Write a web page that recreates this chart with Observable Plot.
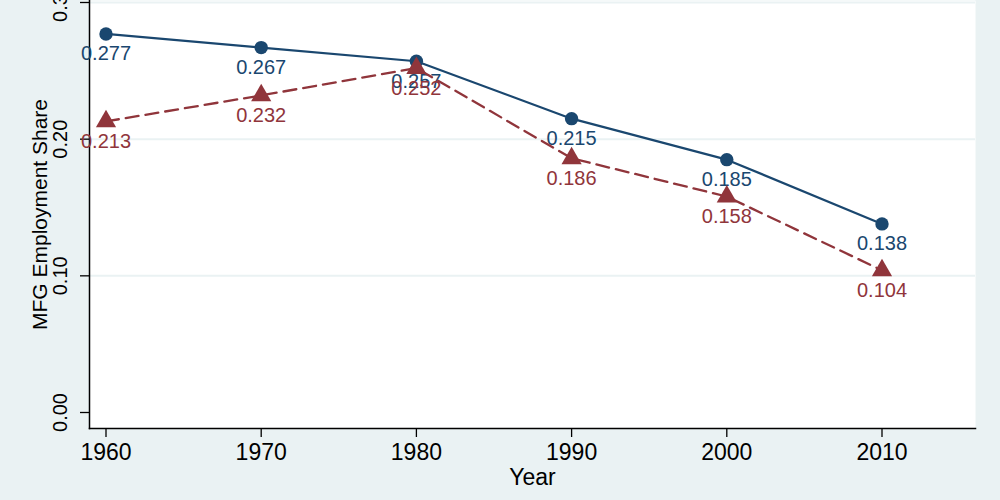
<!DOCTYPE html>
<html>
<head>
<meta charset="utf-8">
<script src="https://cdn.jsdelivr.net/npm/d3@7"></script>
<script src="https://cdn.jsdelivr.net/npm/@observablehq/plot@0.6"></script>
<style>
  html, body { margin: 0; padding: 0; background: #eaf2f3; }
  #chart { width: 1000px; height: 500px; }
</style>
</head>
<body>
<div id="chart"></div>
<script>
const years = [1960, 1970, 1980, 1990, 2000, 2010];
const seriesA = [0.277, 0.267, 0.257, 0.215, 0.185, 0.138];
const seriesB = [0.213, 0.232, 0.252, 0.186, 0.158, 0.104];
const yTicks = [0, 0.1, 0.2, 0.3];
const yTickLabels = ["0.00", "0.10", "0.20", "0.30"];
const xTicks = years;
const yTitle = "MFG Employment Share";
const xTitle = "Year";

const blue = "#1a476f";
const red = "#90353b";
const bg = "#eaf2f3";

const dataA = years.map((y, i) => ({year: y, v: seriesA[i], label: seriesA[i].toFixed(3)}));
const dataB = years.map((y, i) => ({year: y, v: seriesB[i], label: seriesB[i].toFixed(3)}));
const yTickData = yTicks.map((t, i) => ({t, label: yTickLabels[i]}));

const chart = Plot.plot({
  width: 1000,
  height: 500,
  marginLeft: 89,
  marginRight: 25,
  marginTop: 0,
  marginBottom: 72,
  style: {background: bg, fontFamily: "'Liberation Sans', Arial, Helvetica, sans-serif", color: "black"},
  x: {domain: [1960, 2010], range: [105.5, 881.5]},
  y: {domain: [0, 0.3], range: [412, 2]},
  marks: [
    Plot.frame({fill: "white", stroke: null}),
    Plot.gridY(yTicks.slice(1), {stroke: bg, strokeOpacity: 1, strokeWidth: 2}),
    Plot.axisY(yTicks, {tickSize: 9, tickFormat: () => "", label: null, stroke: "black", strokeWidth: 1.3}),
    Plot.text(yTickData, {y: "t", text: "label", frameAnchor: "left", textAnchor: "middle", dx: -29, rotate: -90, fontSize: 20, fill: "black"}),
    Plot.axisX(xTicks, {tickSize: 9, tickPadding: 6, tickFormat: d => String(d), label: null, fontSize: 23, stroke: "black", strokeWidth: 1.3}),
    Plot.frame({anchor: "left", stroke: "black", strokeWidth: 1.5}),
    Plot.frame({anchor: "bottom", stroke: "black", strokeWidth: 1.5}),
    Plot.text([yTitle], {frameAnchor: "left", textAnchor: "middle", dx: -49, rotate: -90, fontSize: 21, fill: "black"}),
    Plot.text([xTitle], {frameAnchor: "bottom", dy: 56, fontSize: 23, fill: "black"}),
    Plot.line(dataA, {x: "year", y: "v", stroke: blue, strokeWidth: 2.2}),
    Plot.dot(dataA, {x: "year", y: "v", r: 6.7, fill: blue, stroke: null}),
    Plot.text(dataA, {x: "year", y: "v", text: "label", dy: 20, fontSize: 20, fill: blue}),
    Plot.line(dataB, {x: "year", y: "v", stroke: red, strokeWidth: 2.3, strokeDasharray: "13,7"}),
    Plot.dot(dataB, {x: "year", y: "v", r: 7.5, symbol: "triangle", fill: red, stroke: null}),
    Plot.text(dataB, {x: "year", y: "v", text: "label", dy: 20, fontSize: 20, fill: red})
  ]
});
document.getElementById("chart").appendChild(chart);
</script>
</body>
</html>
